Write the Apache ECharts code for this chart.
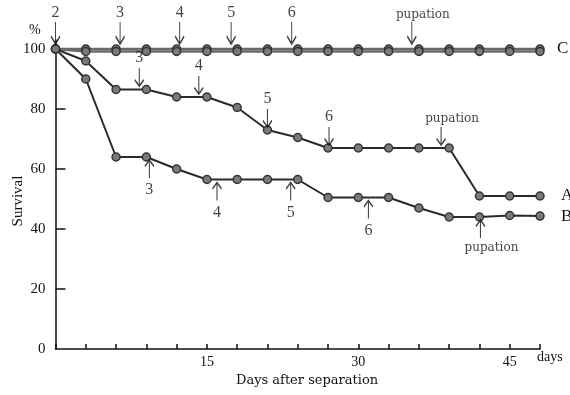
<!DOCTYPE html>
<html>
<head>
<meta charset="utf-8">
<script src="https://cdn.jsdelivr.net/npm/echarts@6/dist/echarts.min.js"></script>
<style>
html,body{margin:0;padding:0;background:#fff;}
#chart{width:570px;height:395px;}
</style>
</head>
<body>
<div id="chart"></div>
<script>
var days=[0,3,6,9,12,15,18,21,24,27,30,33,36,39,42,45,48];
var survA=[100,96,86.5,86.5,84,84,80.5,73,70.5,67,67,67,67,67,51,51,51];
var survB=[100,90,64,64,60,56.5,56.5,56.5,56.5,50.5,50.5,50.5,47,44,44,44.5,44.3];
var survC1=[100,100,100,100,100,100,100,100,100,100,100,100,100,100,100,100,100];
var survC2=[100,99.2,99.2,99.2,99.2,99.2,99.2,99.2,99.2,99.2,99.2,99.2,99.2,99.2,99.2,99.2,99.2];
var yLabels=[0,20,40,60,80,100];
var yTicks=[20,40,60,80];
var xLabels=[15,30,45];

// instar marks: [day, survival, text]
var marksC=[[0,100,'2'],[6.4,100,'3'],[12.3,100,'4'],[17.4,100,'5'],[23.4,100,'6'],[35.3,100,'pupation']];
var marksA=[[8.3,86.6,'3'],[14.2,84,'4'],[21,73,'5'],[27.1,67,'6'],[38.2,67,'pupation']];
var marksB=[[9.3,64,'3'],[16,56.5,'4'],[23.3,56.5,'5'],[31,50.5,'6'],[42.1,44,'pupation']];

var font='"Liberation Serif", "DejaVu Serif", serif';
var wideFont='"DejaVu Serif", serif';
var downArrow='path://M5,0 L5,20 M1,13 L5,20 L9,13';
var upArrow='path://M5,20 L5,0 M1,7 L5,0 L9,7';

function pairs(ys){
	var out=[];
	for(var i=0;i<days.length;i++){
		out.push([days[i],ys[i]]);
	}
	return out;
}

function lineSeries(name,ys,color,width,endText,dist){
	return {
		name:name,
		type:'line',
		data:pairs(ys),
		symbol:'circle',
		symbolSize:8,
		lineStyle:{color:color,width:width},
		itemStyle:{color:'#7a7a7a',borderColor:'#333',borderWidth:1.5},
		endLabel:{
			show:!!endText,
			formatter:endText||'',
			distance:dist||20,
			fontFamily:font,
			fontSize:17,
			color:'#111'
		},
		z:3
	};
}

function markSeries(marks,dir,len,gap,dist){
	var data=[];
	for(var i=0;i<marks.length;i++){
		var m=marks[i];
		var isPup=m[2]=='pupation';
		data.push({
			value:[m[0],m[1]],
			name:m[2],
			label:{
				fontSize:isPup?12:16,
				fontFamily:isPup?wideFont:font,
				offset:isPup?[11,0]:[0,0]
			}
		});
	}
	var off=len/2+gap;
	return {
		type:'scatter',
		data:data,
		symbol:dir=='down'?downArrow:upArrow,
		symbolSize:[9,len],
		symbolOffset:[0,dir=='down'?-off:off],
		itemStyle:{color:'rgba(0,0,0,0)',borderColor:'#111',borderWidth:1.5},
		label:{
			show:true,
			position:dir=='down'?'top':'bottom',
			distance:dist,
			formatter:'{b}',
			color:'#111'
		},
		z:4,
		silent:true
	};
}

var chart=echarts.init(document.getElementById('chart'));
var option={
	animation:false,
	backgroundColor:'#fff',
	grid:{left:55.5,right:30,top:40,bottom:46,outerBoundsMode:'none'},
	xAxis:{
		type:'value',
		min:0,
		max:48,
		interval:3,
		axisLine:{lineStyle:{color:'#111',width:1.5}},
		axisTick:{inside:true,length:5,lineStyle:{color:'#111',width:1.5}},
		axisLabel:{customValues:xLabels,fontFamily:font,fontSize:14,color:'#111',margin:6},
		splitLine:{show:false}
	},
	yAxis:{
		type:'value',
		min:0,
		max:103,
		interval:20,
		axisLine:{show:true,lineStyle:{color:'#111',width:1.5}},
		axisTick:{inside:true,length:10,customValues:yTicks,lineStyle:{color:'#111',width:1.5}},
		axisLabel:{customValues:yLabels,fontFamily:font,fontSize:15,color:'#111',margin:10},
		splitLine:{show:false}
	},
	graphic:[
		{type:'text',left:29,top:23,style:{text:'%',font:'14px '+font,fill:'#111'}},
		{type:'text',left:537,top:350,style:{text:'days',font:'14px '+font,fill:'#111'}},
		{type:'text',left:236,top:374,style:{text:'Days after separation',font:'13px '+wideFont,fill:'#111'}},
		{type:'text',x:18,y:201,rotation:Math.PI/2,style:{text:'Survival',font:'15px '+font,fill:'#111',align:'center',verticalAlign:'middle'}}
	],
	series:[
		lineSeries('C1',survC1,'#6a6a6a',2.5,'C',17),
		lineSeries('C2',survC2,'#6a6a6a',2.5,null),
		lineSeries('A',survA,'#2a2a2a',2,'A',21),
		lineSeries('B',survB,'#2a2a2a',2,'B',21),
		markSeries(marksC,'down',22,5,0),
		markSeries(marksA,'down',18,3,1),
		markSeries(marksB,'up',18,3,3)
	]
};
chart.setOption(option);
</script>
</body>
</html>
